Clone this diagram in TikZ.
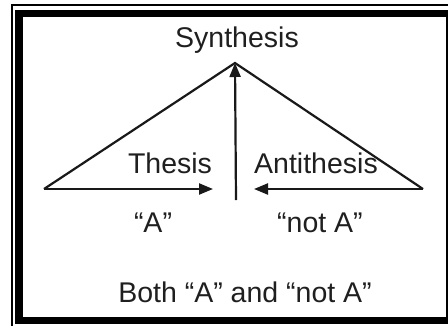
\documentclass[tikz,border=0pt]{standalone}
\usepackage{fontspec}
\setmainfont{Liberation Sans}
\usetikzlibrary{arrows.meta}
\begin{document}
\begin{tikzpicture}[x=1pt,y=-1pt,
  lbl/.style={inner sep=0pt,font=\fontsize{28.5}{33}\selectfont,text=black!88},
  edge/.style={line width=2.2pt,black!90},
  arr/.style={edge,-{Triangle[length=14pt,width=11pt]}}]
\useasboundingbox (0,0) rectangle (448,325);
\fill[white] (0,0) rectangle (448,325);
% frame
\draw[line width=1.6pt] (12,330) -- (12,5) -- (455,5);
\draw[line width=7.5pt] (19,13.5) rectangle (449.5,320.5);
% points
\coordinate (apex) at (235,63);
\coordinate (L) at (44,189);
\coordinate (R) at (423,189);
\coordinate (base) at (236,200);
\coordinate (Ttip) at (213,189);
\coordinate (Atip) at (254,189);
% lines
\draw[edge,line join=miter] (L) -- (apex) -- (R);
\draw[arr] (base) -- (apex);
\draw[arr] (L) -- (Ttip);
\draw[arr] (R) -- (Atip);
% labels
\node[lbl] (syn) at (237,40) {Synthesis};
\node[lbl] (the) at (170,163) {Thesis};
\node[lbl] (ant) at (316,163) {Antithesis};
\node[lbl] (qa) at (153,223) {“A”};
\node[lbl] (qn) at (320,223) {“not A”};
\node[lbl] (both) at (245,292) {Both “A” and “not A”};
\end{tikzpicture}
\end{document}
